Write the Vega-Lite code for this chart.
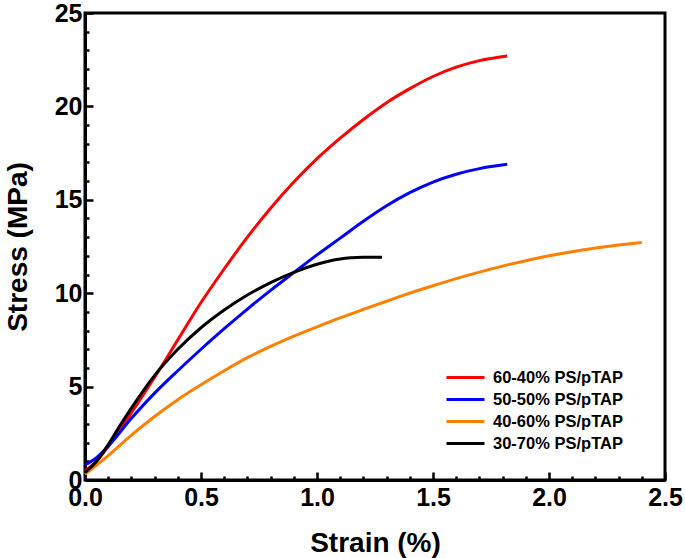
{
  "$schema": "https://vega.github.io/schema/vega-lite/v6.json",
  "width": 580,
  "height": 467,
  "autosize": "none",
  "padding": {"left": 85, "top": 13, "right": 20, "bottom": 78},
  "background": "white",
  "config": {
    "font": "Liberation Sans",
    "view": {"stroke": "black", "strokeWidth": 3},
    "axis": {
      "domainColor": "black", "domainWidth": 3, "tickColor": "black", "tickWidth": 2.5,
      "labelFont": "Liberation Sans", "labelFontWeight": "bold", "labelFontSize": 25, "labelColor": "black",
      "titleFont": "Liberation Sans", "titleFontWeight": "bold", "titleFontSize": 28, "titleColor": "black",
      "grid": false, "labelOverlap": false, "labelFlush": false
    }
  },
  "data": {"values": [
    {"s": "60-40% PS/pTAP", "x": 0.0, "y": 0.5},
    {"s": "60-40% PS/pTAP", "x": 0.05, "y": 1.0},
    {"s": "60-40% PS/pTAP", "x": 0.1, "y": 1.8},
    {"s": "60-40% PS/pTAP", "x": 0.2, "y": 3.6},
    {"s": "60-40% PS/pTAP", "x": 0.3, "y": 5.5},
    {"s": "60-40% PS/pTAP", "x": 0.4, "y": 7.5},
    {"s": "60-40% PS/pTAP", "x": 0.5, "y": 9.5},
    {"s": "60-40% PS/pTAP", "x": 0.6, "y": 11.3},
    {"s": "60-40% PS/pTAP", "x": 0.7, "y": 13.0},
    {"s": "60-40% PS/pTAP", "x": 0.8, "y": 14.55},
    {"s": "60-40% PS/pTAP", "x": 0.9, "y": 15.95},
    {"s": "60-40% PS/pTAP", "x": 1.0, "y": 17.2},
    {"s": "60-40% PS/pTAP", "x": 1.1, "y": 18.3},
    {"s": "60-40% PS/pTAP", "x": 1.2, "y": 19.3},
    {"s": "60-40% PS/pTAP", "x": 1.3, "y": 20.2},
    {"s": "60-40% PS/pTAP", "x": 1.4, "y": 20.95},
    {"s": "60-40% PS/pTAP", "x": 1.5, "y": 21.6},
    {"s": "60-40% PS/pTAP", "x": 1.6, "y": 22.1},
    {"s": "60-40% PS/pTAP", "x": 1.7, "y": 22.45},
    {"s": "60-40% PS/pTAP", "x": 1.82, "y": 22.7},
    {"s": "50-50% PS/pTAP", "x": 0.0, "y": 0.8},
    {"s": "50-50% PS/pTAP", "x": 0.05, "y": 1.2},
    {"s": "50-50% PS/pTAP", "x": 0.1, "y": 1.8},
    {"s": "50-50% PS/pTAP", "x": 0.2, "y": 3.3},
    {"s": "50-50% PS/pTAP", "x": 0.3, "y": 4.65},
    {"s": "50-50% PS/pTAP", "x": 0.4, "y": 5.85},
    {"s": "50-50% PS/pTAP", "x": 0.5, "y": 7.0},
    {"s": "50-50% PS/pTAP", "x": 0.6, "y": 8.1},
    {"s": "50-50% PS/pTAP", "x": 0.7, "y": 9.15},
    {"s": "50-50% PS/pTAP", "x": 0.8, "y": 10.15},
    {"s": "50-50% PS/pTAP", "x": 0.9, "y": 11.1},
    {"s": "50-50% PS/pTAP", "x": 1.0, "y": 12.05},
    {"s": "50-50% PS/pTAP", "x": 1.1, "y": 12.95},
    {"s": "50-50% PS/pTAP", "x": 1.2, "y": 13.85},
    {"s": "50-50% PS/pTAP", "x": 1.3, "y": 14.68},
    {"s": "50-50% PS/pTAP", "x": 1.4, "y": 15.38},
    {"s": "50-50% PS/pTAP", "x": 1.5, "y": 15.95},
    {"s": "50-50% PS/pTAP", "x": 1.6, "y": 16.37},
    {"s": "50-50% PS/pTAP", "x": 1.7, "y": 16.67},
    {"s": "50-50% PS/pTAP", "x": 1.82, "y": 16.9},
    {"s": "40-60% PS/pTAP", "x": 0.0, "y": 0.3},
    {"s": "40-60% PS/pTAP", "x": 0.1, "y": 1.3},
    {"s": "40-60% PS/pTAP", "x": 0.2, "y": 2.4},
    {"s": "40-60% PS/pTAP", "x": 0.3, "y": 3.4},
    {"s": "40-60% PS/pTAP", "x": 0.4, "y": 4.3},
    {"s": "40-60% PS/pTAP", "x": 0.5, "y": 5.1},
    {"s": "40-60% PS/pTAP", "x": 0.6, "y": 5.85},
    {"s": "40-60% PS/pTAP", "x": 0.7, "y": 6.55},
    {"s": "40-60% PS/pTAP", "x": 0.8, "y": 7.15},
    {"s": "40-60% PS/pTAP", "x": 0.9, "y": 7.7},
    {"s": "40-60% PS/pTAP", "x": 1.0, "y": 8.2},
    {"s": "40-60% PS/pTAP", "x": 1.1, "y": 8.68},
    {"s": "40-60% PS/pTAP", "x": 1.2, "y": 9.13},
    {"s": "40-60% PS/pTAP", "x": 1.3, "y": 9.57},
    {"s": "40-60% PS/pTAP", "x": 1.4, "y": 10.0},
    {"s": "40-60% PS/pTAP", "x": 1.5, "y": 10.4},
    {"s": "40-60% PS/pTAP", "x": 1.6, "y": 10.78},
    {"s": "40-60% PS/pTAP", "x": 1.7, "y": 11.13},
    {"s": "40-60% PS/pTAP", "x": 1.8, "y": 11.45},
    {"s": "40-60% PS/pTAP", "x": 1.9, "y": 11.74},
    {"s": "40-60% PS/pTAP", "x": 2.0, "y": 12.0},
    {"s": "40-60% PS/pTAP", "x": 2.1, "y": 12.22},
    {"s": "40-60% PS/pTAP", "x": 2.2, "y": 12.42},
    {"s": "40-60% PS/pTAP", "x": 2.3, "y": 12.58},
    {"s": "40-60% PS/pTAP", "x": 2.4, "y": 12.72},
    {"s": "30-70% PS/pTAP", "x": 0.0, "y": 0.4},
    {"s": "30-70% PS/pTAP", "x": 0.05, "y": 1.0},
    {"s": "30-70% PS/pTAP", "x": 0.1, "y": 1.9},
    {"s": "30-70% PS/pTAP", "x": 0.15, "y": 2.9},
    {"s": "30-70% PS/pTAP", "x": 0.2, "y": 3.85},
    {"s": "30-70% PS/pTAP", "x": 0.3, "y": 5.6},
    {"s": "30-70% PS/pTAP", "x": 0.4, "y": 7.0},
    {"s": "30-70% PS/pTAP", "x": 0.5, "y": 8.15},
    {"s": "30-70% PS/pTAP", "x": 0.6, "y": 9.1},
    {"s": "30-70% PS/pTAP", "x": 0.7, "y": 9.9},
    {"s": "30-70% PS/pTAP", "x": 0.8, "y": 10.57},
    {"s": "30-70% PS/pTAP", "x": 0.9, "y": 11.12},
    {"s": "30-70% PS/pTAP", "x": 1.0, "y": 11.55},
    {"s": "30-70% PS/pTAP", "x": 1.1, "y": 11.83},
    {"s": "30-70% PS/pTAP", "x": 1.2, "y": 11.92},
    {"s": "30-70% PS/pTAP", "x": 1.28, "y": 11.93}
  ]},
  "mark": {"type": "line", "strokeWidth": 3, "interpolate": "monotone"},
  "encoding": {
    "x": {
      "field": "x", "type": "quantitative",
      "scale": {"domain": [0, 2.5], "nice": false, "zero": false},
      "axis": {
        "title": "Strain (%)",
        "values": [0,0.1,0.2,0.3,0.4,0.5,0.6,0.7,0.8,0.9,1,1.1,1.2,1.3,1.4,1.5,1.6,1.7,1.8,1.9,2,2.1,2.2,2.3,2.4,2.5],
        "labelExpr": "abs(datum.value*2 - round(datum.value*2)) < 0.001 ? format(datum.value, '.1f') : ''",
        "tickSize": {"condition": {"test": "abs(datum.value*2 - round(datum.value*2)) < 0.001", "value": -8}, "value": -4},
        "labelPadding": 13,
        "titlePadding": 15
      }
    },
    "y": {
      "field": "y", "type": "quantitative",
      "scale": {"domain": [0, 25], "nice": false},
      "axis": {
        "title": "Stress (MPa)",
        "values": [0,1,2,3,4,5,6,7,8,9,10,11,12,13,14,15,16,17,18,19,20,21,22,23,24,25],
        "labelExpr": "datum.value % 5 === 0 ? format(datum.value, 'd') : ''",
        "tickSize": {"condition": {"test": "datum.value % 5 === 0", "value": -8}, "value": -4},
        "labelPadding": 11,
        "titlePadding": 22
      }
    },
    "color": {
      "field": "s", "type": "nominal", "sort": null,
      "scale": {
        "domain": ["60-40% PS/pTAP", "50-50% PS/pTAP", "40-60% PS/pTAP", "30-70% PS/pTAP"],
        "range": ["#ff0000", "#0000ff", "#ff8000", "#000000"]
      },
      "legend": {
        "title": null, "orient": "none", "legendX": 369, "legendY": 353,
        "symbolType": "M-1.9,0L1.9,0", "symbolSize": 400, "symbolStrokeWidth": 3,
        "labelFont": "Liberation Sans", "labelFontWeight": "bold", "labelFontSize": 16.5, "labelColor": "black",
        "labelOffset": 16, "rowPadding": 2, "padding": 0
      }
    }
  }
}
